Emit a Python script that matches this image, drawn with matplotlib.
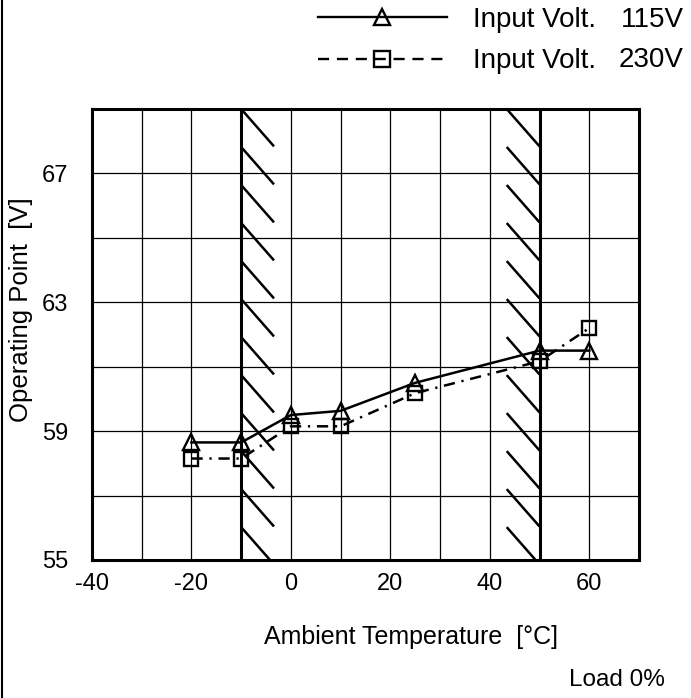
import numpy as np
import matplotlib
matplotlib.use("Agg")
from matplotlib import pyplot as plt
from matplotlib.lines import Line2D

plt.rcParams["font.family"] = ["Liberation Sans", "DejaVu Sans"]
plt.rcParams["font.size"] = 17
plt.rcParams["axes.unicode_minus"] = False

# data
temps = [-20, -10, 0, 10, 25, 50, 60]
volt115 = [58.65, 58.65, 59.5, 59.63, 60.5, 61.5, 61.5]
volt230 = [58.15, 58.15, 59.15, 59.15, 60.18, 61.17, 62.2]
series_names = ["115V", "230V"]
hatch_bands = [(-10, -3.4), (43.4, 50)]

fig = plt.figure(figsize=(6.91, 6.98), dpi=100)
ax = fig.add_axes([92 / 691, 1 - 560 / 698, 547 / 691, 451 / 698])

ax.set_xlim(-40, 70)
ax.set_ylim(55, 69)
ax.set_xticks(np.arange(-40, 61, 20))
ax.set_xticks(np.arange(-30, 61, 20), minor=True)
ax.set_yticks(np.arange(55, 68, 4))
ax.set_yticks(np.arange(57, 68, 4), minor=True)
ax.grid(True, which="both", color="black", lw=0.9)
ax.tick_params(which="both", length=0)
ax.tick_params(axis="x", pad=9)
ax.tick_params(axis="y", pad=17)
for s in ax.spines.values():
    s.set_linewidth(2.2)

# bold boundary lines and hatching inside the bands
for lo, hi in hatch_bands:
    edge = lo if lo == -10 else hi
    ax.axvline(edge, color="black", lw=2.2, zorder=2)
    step = 1.18
    for y0 in np.arange(69, 54, -step):
        ax.plot([lo, hi], [y0, y0 - 1.16], color="black", lw=1.8,
                solid_capstyle="butt", zorder=2)

ax.plot(temps, volt115, color="black", lw=1.8, marker="^", ms=11,
        mfc="none", mec="black", mew=1.7, zorder=4)
ax.plot(temps, volt230, color="black", lw=1.8, dashes=(4.5, 2.7, 0.9, 2.7),
        marker="s", ms=10, mfc="none", mec="black", mew=1.7, zorder=4)

handles = [
    Line2D([], [], color="black", lw=1.7, marker="^", ms=12, mfc="none", mew=1.7),
    Line2D([], [], color="black", lw=1.7, dashes=(4.7, 3.3), marker="s", ms=11,
           mfc="none", mew=1.7),
]
fig.legend(handles, ["Input Volt.", "Input Volt."], loc="upper left",
           bbox_to_anchor=(318 / 691, 1 - 7 / 698), frameon=False,
           borderpad=0, borderaxespad=0, handlelength=4.64, handletextpad=0.94,
           labelspacing=0.55, numpoints=1, fontsize=20)
fig.text(684 / 691, 1 - 20 / 698, series_names[0], ha="right", va="center",
         fontsize=20)
fig.text(684 / 691, 1 - 60 / 698, series_names[1], ha="right", va="center",
         fontsize=20)

fig.text(21 / 691, 1 - 310 / 698, "Operating Point  [V]", rotation=90,
         ha="center", va="center", fontsize=18.5)
fig.text(411 / 691, 1 - 637 / 698, "Ambient Temperature  [°C]",
         ha="center", va="center", fontsize=18)
fig.text(665 / 691, 1 - 680 / 698, "Load 0%", ha="right", va="center",
         fontsize=17.5)

# left page border
fig.add_artist(Line2D([2 / 691, 2 / 691], [0, 1], color="black", lw=1.5))

fig.savefig("out.png", dpi=100)
